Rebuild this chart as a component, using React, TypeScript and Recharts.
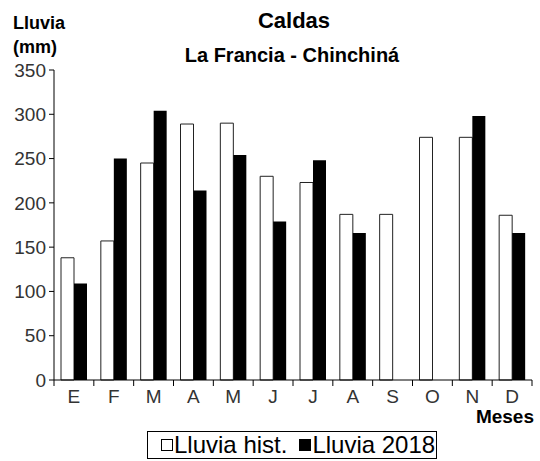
import React from 'react';
import { BarChart, Bar, XAxis, YAxis, Legend } from 'recharts';

const months = ['E', 'F', 'M', 'A', 'M', 'J', 'J', 'A', 'S', 'O', 'N', 'D'];
const lluviaHist = [138, 157, 245, 289, 290, 230, 223, 187, 187, 274, 274, 186];
const lluvia2018 = [109, 250, 304, 214, 254, 179, 248, 166, null, null, 298, 166];
const yTicks = [0, 50, 100, 150, 200, 250, 300, 350];
const seriesOrder = ['hist', 'y2018'];

const data = months.map((m, i) => ({ mes: m, hist: lluviaHist[i], y2018: lluvia2018[i] }));

const FONT = '"Liberation Sans", Arial, Helvetica, sans-serif';

const MonthTick = (props: any) => {
  const { x, y, payload, index, visibleTicksCount } = props;
  const half = payload && typeof payload.offset === 'number' && payload.offset > 0 ? payload.offset : 20;
  return (
    <g>
      <line x1={x - half} x2={x - half} y1={y} y2={y + 6} stroke="#000" strokeWidth={1} />
      {index === visibleTicksCount - 1 && (
        <line x1={x + half} x2={x + half} y1={y} y2={y + 6} stroke="#000" strokeWidth={1} />
      )}
      <text x={x} y={y + 23} textAnchor="middle" fontSize={19} fontFamily={FONT} fill="#333">
        {payload.value}
      </text>
    </g>
  );
};

const LegendBox = (props: any) => {
  const payload = [...(props.payload || [])].sort(
    (a: any, b: any) => seriesOrder.indexOf(a.dataKey) - seriesOrder.indexOf(b.dataKey)
  );
  return (
    <div
      style={{
        boxSizing: 'border-box',
        width: 290,
        height: 28,
        border: '1px solid #000',
        display: 'flex',
        alignItems: 'center',
        paddingLeft: 13,
        fontSize: 24,
        fontFamily: FONT,
        color: '#000',
        lineHeight: '26px',
        background: '#fff',
        whiteSpace: 'nowrap',
      }}
    >
      {payload.map((entry: any, i: number) => {
        const hollow = entry.dataKey === 'hist';
        return (
          <React.Fragment key={i}>
            <span
              style={{
                display: 'inline-block',
                boxSizing: 'border-box',
                width: 12,
                height: 12,
                border: '1.5px solid #000',
                background: hollow ? '#fff' : '#000',
                marginLeft: i === 0 ? 0 : 12,
                marginRight: 1,
              }}
            />
            <span>{entry.value}</span>
          </React.Fragment>
        );
      })}
    </div>
  );
};

export default function App() {
  return (
    <div style={{ position: 'absolute', left: 0, top: 0, width: 540, height: 461, background: '#fff', fontFamily: FONT }}>
      <BarChart
        width={540}
        height={461}
        data={data}
        margin={{ top: 70, right: 8, left: 0, bottom: 51 }}
        barGap={0}
        barSize={13}
      >
        <XAxis
          dataKey="mes"
          height={30}
          tickLine={false}
          tickSize={0}
          tickMargin={0}
          axisLine={{ stroke: '#000', strokeWidth: 1 }}
          tick={<MonthTick />}
          interval={0}
        />
        <YAxis
          width={54}
          domain={[0, 350]}
          ticks={yTicks}
          interval={0}
          tickSize={5}
          tickMargin={3}
          axisLine={{ stroke: '#000', strokeWidth: 1 }}
          tickLine={{ stroke: '#000', strokeWidth: 1 }}
          tick={{ fontSize: 19, fill: '#333', fontFamily: FONT }}
        />
        <Bar dataKey="hist" name="Lluvia hist." fill="#fff" stroke="#222" strokeWidth={1} isAnimationActive={false} />
        <Bar dataKey="y2018" name="Lluvia 2018" fill="#000" isAnimationActive={false} />
        <Legend
          layout="horizontal"
          verticalAlign="middle"
          align="center"
          content={<LegendBox />}
          wrapperStyle={{ top: 431, left: 147, width: 290, height: 28 }}
        />
      </BarChart>
      <svg
        width={540}
        height={461}
        style={{ position: 'absolute', left: 0, top: 0, pointerEvents: 'none' }}
      >
        <text x={294} y={28} textAnchor="middle" fontSize={22} fontWeight="bold" fontFamily={FONT} fill="#000">
          Caldas
        </text>
        <text x={292} y={62} textAnchor="middle" fontSize={20} fontWeight="bold" fontFamily={FONT} fill="#000">
          La Francia - Chinchiná
        </text>
        <text x={13} y={29} fontSize={18} fontWeight="bold" fontFamily={FONT} fill="#000">
          Lluvia
        </text>
        <text x={13} y={53} fontSize={18} fontWeight="bold" fontFamily={FONT} fill="#000">
          (mm)
        </text>
        <text x={534} y={423} textAnchor="end" fontSize={19} fontWeight="bold" fontFamily={FONT} fill="#000">
          Meses
        </text>
      </svg>
    </div>
  );
}
